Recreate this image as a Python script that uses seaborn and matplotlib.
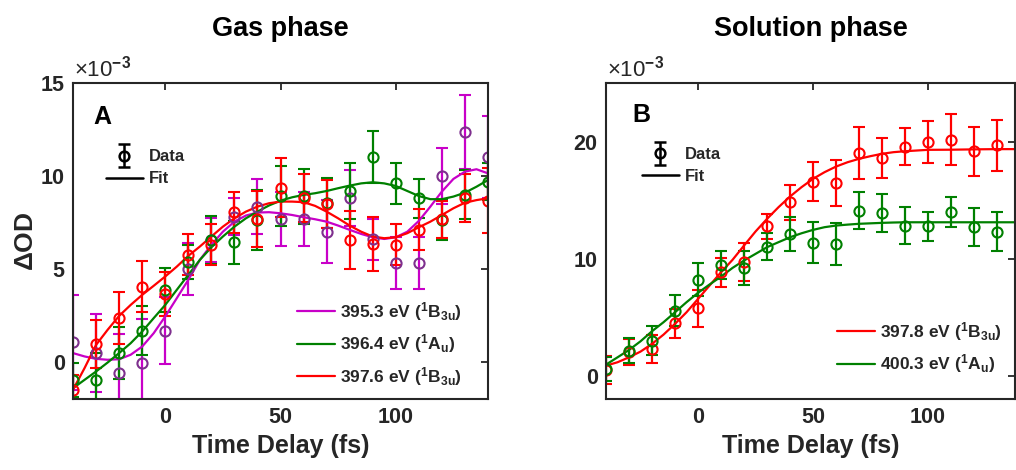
import numpy as np
import pandas as pd
import matplotlib
matplotlib.use("Agg")
import matplotlib.pyplot as plt
import seaborn as sns
from matplotlib.lines import Line2D
from matplotlib.legend_handler import HandlerErrorbar

# ---------------- data (values in units of 1e-3) ----------------
t_gas = [-40, -30, -20, -10, 0, 10, 20, 30, 40, 50, 60, 70, 80, 90, 100, 110, 120, 130, 140]
gas_m = [1.05, 0.47, -0.61, -0.07, 1.67, 5.0, 6.56, 7.81, 8.35, 7.69, 7.69, 7.0, 8.8, 6.6, 5.34, 5.34, 10.0, 12.35, 11.0]
gas_m_err = [2.55, 2.1, 2.1, 2.4, 1.8, 1.4, 1.2, 1.0, 1.5, 1.45, 1.45, 1.7, 1.5, 1.1, 1.4, 1.4, 1.5, 2.0, 2.2]
gas_g = [-0.97, -1.0, 0.5, 1.68, 3.87, 5.36, 6.56, 6.43, 7.63, 8.92, 8.9, 8.56, 9.2, 11.04, 9.6, 8.8, 7.63, 9.0, 9.7]
gas_g_err = [0.9, 1.5, 1.4, 1.3, 1.2, 0.9, 1.3, 1.15, 1.6, 1.6, 1.5, 1.35, 1.5, 1.4, 1.1, 1.05, 1.1, 1.3, 1.0]
gas_r = [-1.5, 0.97, 2.38, 4.05, 3.64, 5.75, 6.29, 8.05, 7.67, 9.37, 8.8, 8.5, 6.56, 6.33, 6.29, 7.1, 7.67, 8.83, 8.66]
gas_r_err = [0.8, 1.3, 1.4, 1.35, 1.2, 1.1, 1.1, 1.1, 1.5, 1.6, 1.3, 1.3, 1.55, 1.45, 1.1, 1.1, 1.0, 1.3, 1.75]

t_gas_fit = list(range(-40, 145, 5))
gas_m_fit = [0.47, 0.29, 0.16, 0.11, 0.14, 0.38, 0.82, 1.54, 2.44, 3.42, 4.41, 5.48, 6.29, 7.0, 7.54, 7.87,
             8.03, 8.05, 7.99, 7.9, 7.78, 7.67, 7.54, 7.33, 7.1, 6.88, 6.7, 6.61, 6.7, 7.0, 7.58, 8.35,
             9.16, 9.84, 10.23, 10.36, 10.14]
gas_g_fit = [-1.42, -0.97, -0.52, -0.04, 0.47, 1.0, 1.63, 2.35, 3.06, 3.87, 4.68, 5.48, 6.16, 6.74, 7.27, 7.72,
             8.08, 8.41, 8.67, 8.85, 8.98, 9.07, 9.19, 9.34, 9.48, 9.6, 9.66, 9.6, 9.46, 9.19, 8.92, 8.75,
             8.75, 8.89, 9.1, 9.42, 9.78]
gas_r_fit = [-1.5, -0.34, 0.91, 1.72, 2.47, 3.06, 3.6, 4.09, 4.59, 5.12, 5.7, 6.2, 6.74, 7.27, 7.72, 8.08,
             8.35, 8.53, 8.62, 8.62, 8.59, 8.39, 8.08, 7.72, 7.33, 7.0, 6.74, 6.65, 6.7, 6.92, 7.24, 7.54,
             7.9, 8.26, 8.56, 8.7, 8.8]

t_sol = [-40, -30, -20, -10, 0, 10, 20, 30, 40, 50, 60, 70, 80, 90, 100, 110, 120, 130]
sol_r = [0.48, 1.99, 2.28, 4.47, 5.75, 8.83, 9.69, 12.76, 14.81, 16.58, 16.44, 19.0, 18.6, 19.57, 19.94, 20.17, 19.15, 19.66]
sol_r_err = [1.2, 1.1, 1.2, 1.25, 1.57, 1.25, 1.64, 1.07, 1.5, 1.64, 1.98, 2.2, 1.72, 1.57, 1.8, 2.18, 2.07, 2.22]
sol_g = [0.57, 2.14, 2.99, 5.56, 8.21, 9.46, 9.2, 11.03, 12.11, 11.34, 11.26, 14.1, 13.87, 12.82, 12.76, 13.96, 12.68, 12.31]
sol_g_err = [1.0, 1.1, 1.25, 1.3, 1.38, 1.2, 1.44, 1.17, 1.47, 1.75, 1.8, 1.6, 1.64, 1.6, 1.24, 1.28, 1.6, 1.7]

t_sol_fit = list(range(-40, 105, 5)) + [110, 120, 130, 140]
sol_r_fit = [0.85, 1.14, 1.56, 2.05, 2.71, 3.5, 4.42, 5.41, 6.55, 7.69, 8.83, 9.89, 11.11, 12.31, 13.39, 14.39,
             15.3, 16.1, 16.81, 17.38, 17.86, 18.23, 18.52, 18.75, 18.95, 19.09, 19.17, 19.23, 19.29,
             19.3, 19.33, 19.35, 19.35]
sol_g_fit = [0.94, 1.56, 2.19, 2.93, 3.79, 4.56, 5.41, 6.27, 7.07, 7.78, 8.46, 9.2, 9.83, 10.4, 10.97, 11.4,
             11.82, 12.16, 12.45, 12.68, 12.82, 12.9, 12.97, 13.01, 13.05, 13.08, 13.1, 13.1, 13.1,
             13.1, 13.1, 13.1, 13.1]

gas_labels = [r"395.3 eV ($^{\mathbf{1}}\mathbf{B}_{\mathbf{3u}}$)",
              r"396.4 eV ($^{\mathbf{1}}\mathbf{A}_{\mathbf{u}}$)",
              r"397.6 eV ($^{\mathbf{1}}\mathbf{B}_{\mathbf{3u}}$)"]
sol_labels = [r"397.8 eV ($^{\mathbf{1}}\mathbf{B}_{\mathbf{3u}}$)",
              r"400.3 eV ($^{\mathbf{1}}\mathbf{A}_{\mathbf{u}}$)"]

# ---------------- style ----------------
sns.set_style("white")
plt.rcParams["font.family"] = ["Liberation Sans", "DejaVu Sans"]
plt.rcParams["font.weight"] = "bold"
plt.rcParams["mathtext.fontset"] = "custom"
plt.rcParams["mathtext.rm"] = "Liberation Sans"
plt.rcParams["mathtext.it"] = "Liberation Sans:italic"
plt.rcParams["mathtext.bf"] = "Liberation Sans:bold"
plt.rcParams["mathtext.default"] = "rm"

MAG, MAGM, GRN, RED = "#C800C8", "#7E2F8E", "#008000", "#FF0000"
AXC = "#262626"

fig = plt.figure(figsize=(10.16, 4.70), dpi=100)
axL = fig.add_axes([73 / 1016, 71 / 470, 415 / 1016, 316 / 470])
axR = fig.add_axes([606 / 1016, 71 / 470, 409 / 1016, 316 / 470])

eb_kw = dict(fmt="o", mfc="none", markersize=7.3, mew=1.5, elinewidth=1.6, capsize=4.5, capthick=1.6)


def draw(ax, t, series, t_fit, fits, colors, labels):
    for v, e, c, mc in series:
        ax.errorbar(t, v, yerr=e, color=c, mec=mc, ecolor=c, **eb_kw)
    for f, c, lab in zip(fits, colors, labels):
        sns.lineplot(x=t_fit, y=f, color=c, lw=1.6, ax=ax, label=lab)


draw(axL, t_gas,
     [(gas_m, gas_m_err, MAG, MAGM), (gas_g, gas_g_err, GRN, GRN), (gas_r, gas_r_err, RED, RED)],
     t_gas_fit, [gas_m_fit, gas_g_fit, gas_r_fit], [MAG, GRN, RED], gas_labels)
draw(axR, t_sol,
     [(sol_r, sol_r_err, RED, RED), (sol_g, sol_g_err, GRN, GRN)],
     t_sol_fit, [sol_r_fit, sol_g_fit], [RED, GRN], sol_labels)

axL.set_xlim(-40, 140)
axL.set_ylim(-2, 15)
axL.set_yticks([0, 5, 10, 15])
axR.set_xlim(-40, 137.8)
axR.set_ylim(-2, 25)
axR.set_yticks([0, 10, 20])

for ax in (axL, axR):
    ax.set_xticks([0, 50, 100])
    for s in ax.spines.values():
        s.set_color(AXC)
        s.set_linewidth(1.5)
        s.set_visible(True)
    ax.tick_params(direction="in", top=True, right=True, length=5, width=1.3, color=AXC,
                   labelsize=15.5, labelcolor=AXC, pad=6)
    for lab in ax.get_xticklabels() + ax.get_yticklabels():
        lab.set_fontweight("bold")
    ax.set_xlabel("Time Delay (fs)", fontsize=18, fontweight="bold", color=AXC, labelpad=4)
    ax.set_ylabel("")
    ax.text(0.003, 1.005, "×10$^{-3}$", transform=ax.transAxes,
            fontsize=16, fontweight="normal", color=AXC, ha="left", va="bottom")

axL.set_ylabel(r"$\mathbf{\Delta}$OD", fontsize=19, fontweight="bold", color=AXC, labelpad=2)
axL.set_title("Gas phase", fontsize=19.5, fontweight="bold", color="black", pad=34)
axR.set_title("Solution phase", fontsize=19.5, fontweight="bold", color="black", pad=34)

axL.text(0.048, 0.892, "A", transform=axL.transAxes, fontsize=18, fontweight="bold",
         color="black", va="center", ha="left")
axR.text(0.064, 0.90, "B", transform=axR.transAxes, fontsize=18, fontweight="bold",
         color="black", va="center", ha="left")


def add_legends(ax, fit_anchor, df_anchor):
    h, l = ax.get_legend_handles_labels()
    leg1 = ax.legend(h, l, loc="lower right", bbox_to_anchor=fit_anchor, frameon=False,
                     prop=dict(size=12.5, weight="bold"), handlelength=2.2, handletextpad=0.3,
                     labelspacing=0.55, borderpad=0, borderaxespad=0)
    ax.add_artist(leg1)
    eb = ax.errorbar([np.nan], [np.nan], yerr=[np.nan], fmt="o", color="k", mfc="none",
                     markersize=7, mew=1.8, elinewidth=1.8, capsize=4, capthick=1.8)
    ln = Line2D([], [], color="k", lw=1.8)
    ax.legend([eb, ln], ["Data", "Fit"], loc="upper left", bbox_to_anchor=df_anchor, frameon=False,
              prop=dict(size=12, weight="bold"), handlelength=2.2, handletextpad=0.35,
              labelspacing=0.42, borderpad=0, borderaxespad=0,
              handler_map={type(eb): HandlerErrorbar(yerr_size=0.7)})


add_legends(axL, (0.937, 0.035), (0.0795, 0.79))
add_legends(axR, (0.968, 0.075), (0.088, 0.797))

fig.savefig("out.png", dpi=100)
